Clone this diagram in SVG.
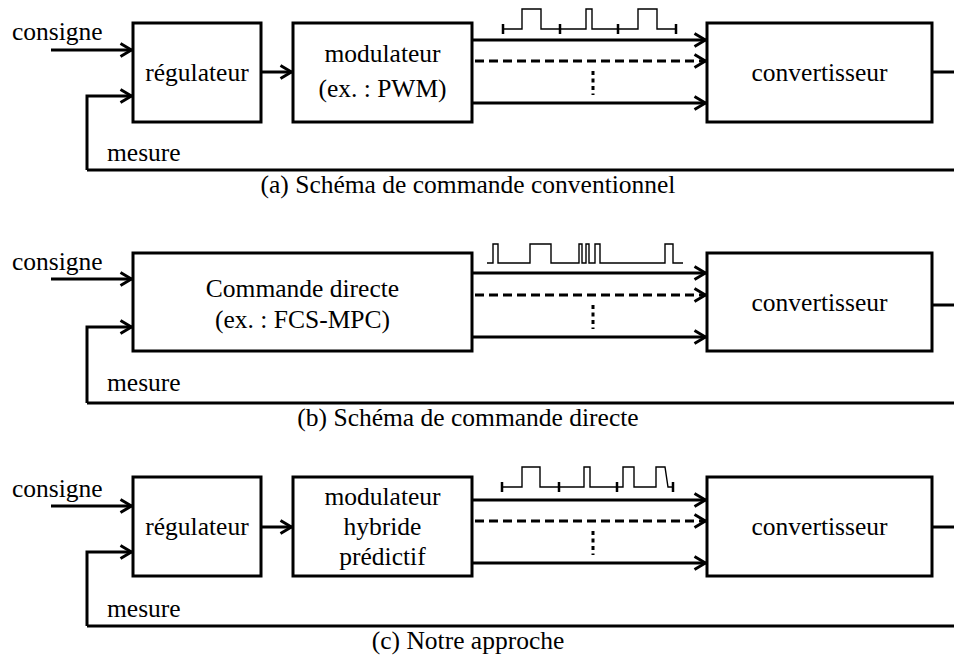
<svg xmlns="http://www.w3.org/2000/svg" width="954" height="657" viewBox="0 0 954 657">
<defs>
<marker id="arr" viewBox="0 0 14 16" refX="13" refY="8" markerWidth="14" markerHeight="16" markerUnits="userSpaceOnUse" orient="auto">
<path d="M1.5,1.5 L12.5,8 L1.5,14.5" fill="none" stroke="#000" stroke-width="3" stroke-dasharray="none" stroke-linejoin="miter"/>
</marker>
</defs>
<style>
.box{fill:#fff;stroke:#000;stroke-width:3}
.ln{fill:none;stroke:#000;stroke-width:3}
.ar{fill:none;stroke:#000;stroke-width:3;marker-end:url(#arr)}
.da{fill:none;stroke:#000;stroke-width:3;stroke-dasharray:9 5;marker-end:url(#arr)}
.dots{fill:none;stroke:#000;stroke-width:3;stroke-dasharray:4 3.5}
.pulse{fill:none;stroke:#000;stroke-width:1.4}
.tick{fill:none;stroke:#000;stroke-width:2.5}
text{font-size:25.5px;fill:#000}
.c{text-anchor:middle}
</style>
<rect width="954" height="657" fill="#fff"/>
<g font-family="Liberation Serif">
<!-- Panel (a) -->
<g id="a-regulateur"><rect class="box" x="133" y="23" width="128" height="99"/><text class="c" x="197" y="81">régulateur</text></g>
<g id="a-modulateur"><rect class="box" x="293" y="23" width="179" height="99"/><text class="c" x="382.5" y="62">modulateur</text><text class="c" x="382.5" y="97">(ex. : PWM)</text></g>
<g id="a-convertisseur"><rect class="box" x="707" y="23" width="225" height="99"/><text class="c" x="819.5" y="81">convertisseur</text></g>
<g id="a-labels"><text x="12" y="40">consigne</text><text x="107" y="161">mesure</text><text class="c" x="468" y="193">(a) Schéma de commande conventionnel</text></g>
<g id="a-pulses">
<path class="pulse" d="M503,29 H522 V9 H541 V29 H586 V9 H592 V29 H638 V9 H657 V29 H676"/>
<path class="tick" d="M503,24 V34 M560,24 V34 M618,24 V34 M676,24 V34"/>
</g>
<g id="a-connectors">
<path class="ar" d="M51,50 H132"/>
<path class="ar" d="M87,170 V96 H132"/>
<path class="ln" d="M87,170 H954"/>
<path class="ar" d="M261,72 H292"/>
<path class="ar" d="M472,40 H706"/>
<path class="da" d="M475,61 H706"/>
<path class="ar" d="M472,103 H706"/>
<path class="dots" d="M593,71 V95"/>
<path class="ln" d="M932,72 H954"/>
</g>

<!-- Panel (b) -->
<g id="b-commande"><rect class="box" x="133" y="253" width="339" height="98"/><text class="c" x="302.5" y="297">Commande directe</text><text class="c" x="302.5" y="328">(ex. : FCS-MPC)</text></g>
<g id="b-convertisseur"><rect class="box" x="707" y="253" width="225" height="98"/><text class="c" x="819.5" y="311">convertisseur</text></g>
<g id="b-labels"><text x="12" y="270">consigne</text><text x="107" y="391">mesure</text><text class="c" x="468" y="426">(b) Schéma de commande directe</text></g>
<g id="b-pulses">
<path class="pulse" d="M487,263 H493 V244 H498 V263 H530 V244 H551 V263 H579 V244 H582 V263 H586 V244 H589 V263 H595 V244 H600 V263 H665 V244 H673 V263 H683"/>
</g>
<g id="b-connectors">
<path class="ar" d="M51,279 H132"/>
<path class="ar" d="M87,403 V327 H132"/>
<path class="ln" d="M87,403 H954"/>
<path class="ar" d="M472,273 H706"/>
<path class="da" d="M475,295 H706"/>
<path class="ar" d="M472,337 H706"/>
<path class="dots" d="M593,305 V329"/>
<path class="ln" d="M932,305 H954"/>
</g>

<!-- Panel (c) -->
<g id="c-regulateur"><rect class="box" x="133" y="477" width="128" height="99"/><text class="c" x="197" y="535">régulateur</text></g>
<g id="c-modulateur"><rect class="box" x="293" y="477" width="179" height="99"/><text class="c" x="382.5" y="505">modulateur</text><text class="c" x="382.5" y="535">hybride</text><text class="c" x="382.5" y="565">prédictif</text></g>
<g id="c-convertisseur"><rect class="box" x="707" y="477" width="225" height="99"/><text class="c" x="819.5" y="535">convertisseur</text></g>
<g id="c-labels"><text x="12" y="497">consigne</text><text x="107" y="617">mesure</text><text class="c" x="468" y="649">(c) Notre approche</text></g>
<g id="c-pulses">
<path class="pulse" d="M502,487 H522 V467 H540 V487 H584 V467 H590 V487 H623 V467 H634 V487 H656 V467 H665 L668,487 H673"/>
<path class="tick" d="M502,482 V492 M559,482 V492 M617,482 V492 M673,482 V492"/>
</g>
<g id="c-connectors">
<path class="ar" d="M51,506 H132"/>
<path class="ar" d="M87,626 V552 H132"/>
<path class="ln" d="M87,626 H954"/>
<path class="ar" d="M261,527 H292"/>
<path class="ar" d="M472,500 H706"/>
<path class="da" d="M475,521 H706"/>
<path class="ar" d="M472,563 H706"/>
<path class="dots" d="M593,531 V555"/>
<path class="ln" d="M932,527 H954"/>
</g>
</g>
</svg>
